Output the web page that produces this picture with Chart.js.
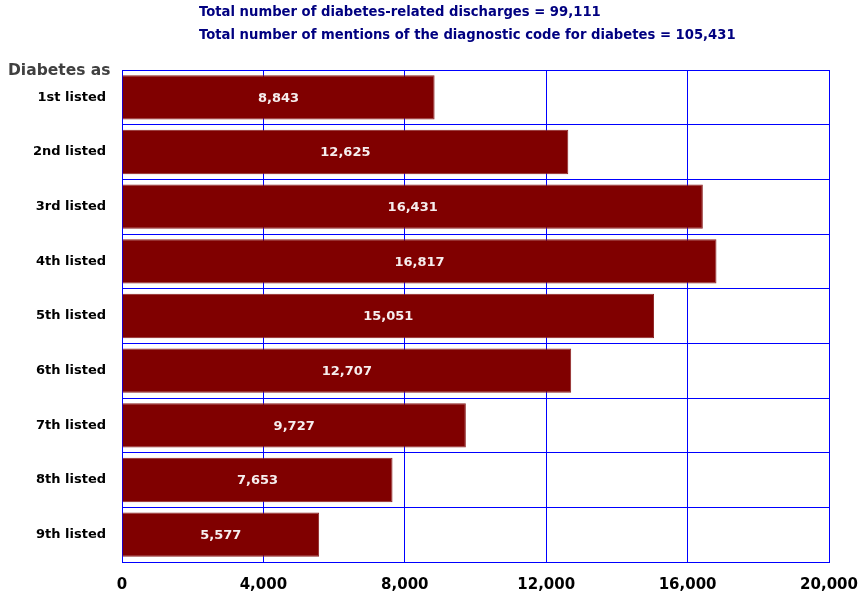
<!DOCTYPE html>
<html lang="en">
<head>
<meta charset="utf-8" />
<title>Diabetes as listed diagnosis</title>
<script src="https://cdn.jsdelivr.net/npm/chart.js"></script>
<style>
  html, body { margin: 0; padding: 0; background: #fff; }
  .chartBox { width: 858px; height: 596px; position: relative; }
</style>
</head>
<body>
<div class="chartBox"><canvas id="myChart"></canvas></div>
<script>
// data
const positions = ["1st listed", "2nd listed", "3rd listed", "4th listed", "5th listed",
                   "6th listed", "7th listed", "8th listed", "9th listed"];
const discharges = [8843, 12625, 16431, 16817, 15051, 12707, 9727, 7653, 5577];
const headerLines = [
  "Total number of diabetes-related discharges = 99,111",
  "Total number of mentions of the diagnostic code for diabetes = 105,431"
];
const axisCaption = "Diabetes as";

const FONT = '"DejaVu Sans", Verdana, sans-serif';

// header text and the small caption above the category labels
const headerText = {
  id: 'headerText',
  afterDraw(chart) {
    const ctx = chart.ctx;
    ctx.save();
    ctx.textBaseline = 'middle';
    ctx.textAlign = 'left';
    ctx.fillStyle = '#000080';
    ctx.font = 'bold 13.2px ' + FONT;
    ctx.fillText(headerLines[0], 199, 13);
    ctx.fillText(headerLines[1], 199, 36);
    ctx.fillStyle = '#404040';
    ctx.font = 'bold 15.5px ' + FONT;
    ctx.fillText(axisCaption, 8, 71);
    ctx.restore();
  }
};

// value printed in the middle of each bar
const barValues = {
  id: 'barValues',
  afterDatasetsDraw(chart) {
    const ctx = chart.ctx;
    ctx.save();
    ctx.font = 'bold 13px ' + FONT;
    ctx.fillStyle = '#f6eeee';
    ctx.textAlign = 'center';
    ctx.textBaseline = 'middle';
    chart.getDatasetMeta(0).data.forEach((bar, i) => {
      const cx = (bar.base + bar.x) / 2;
      ctx.fillText(discharges[i].toLocaleString('en-US'), cx, bar.y + 1);
    });
    ctx.restore();
  }
};

const config = {
  type: 'bar',
  data: {
    labels: positions,
    datasets: [{
      data: discharges,
      backgroundColor: '#800000',
      borderColor: '#8c2020',
      borderWidth: 1,
      borderSkipped: 'left',
      barPercentage: 0.81,
      categoryPercentage: 1
    }]
  },
  options: {
    indexAxis: 'y',
    responsive: true,
    maintainAspectRatio: false,
    animation: false,
    layout: { padding: { top: 70, right: 0, left: 0, bottom: 0 } },
    plugins: {
      legend: { display: false },
      tooltip: { enabled: false }
    },
    scales: {
      x: {
        min: 0,
        max: 20000,
        afterFit(scale) {
          scale.height = 34;
          // let the last tick label run off the edge, keep the plot wide
          scale.paddingLeft = 0;
          scale.paddingRight = 29;
        },
        ticks: {
          stepSize: 4000,
          color: '#000',
          padding: 14,
          font: { family: FONT, size: 15, weight: 'bold' },
          callback: v => v.toLocaleString('en-US'),
          maxRotation: 0
        },
        grid: { color: '#0000ff', lineWidth: 1, drawTicks: false },
        border: { color: '#0000ff', width: 1 }
      },
      y: {
        afterFit(scale) { scale.width = 122; },
        ticks: {
          color: '#000',
          padding: 16,
          font: { family: FONT, size: 13, weight: 'bold' }
        },
        grid: { color: '#0000ff', lineWidth: 1, drawTicks: false, offset: true },
        border: { color: '#0000ff', width: 1 }
      }
    }
  },
  plugins: [headerText, barValues]
};

const myChart = new Chart(document.getElementById('myChart'), config);
</script>
</body>
</html>
